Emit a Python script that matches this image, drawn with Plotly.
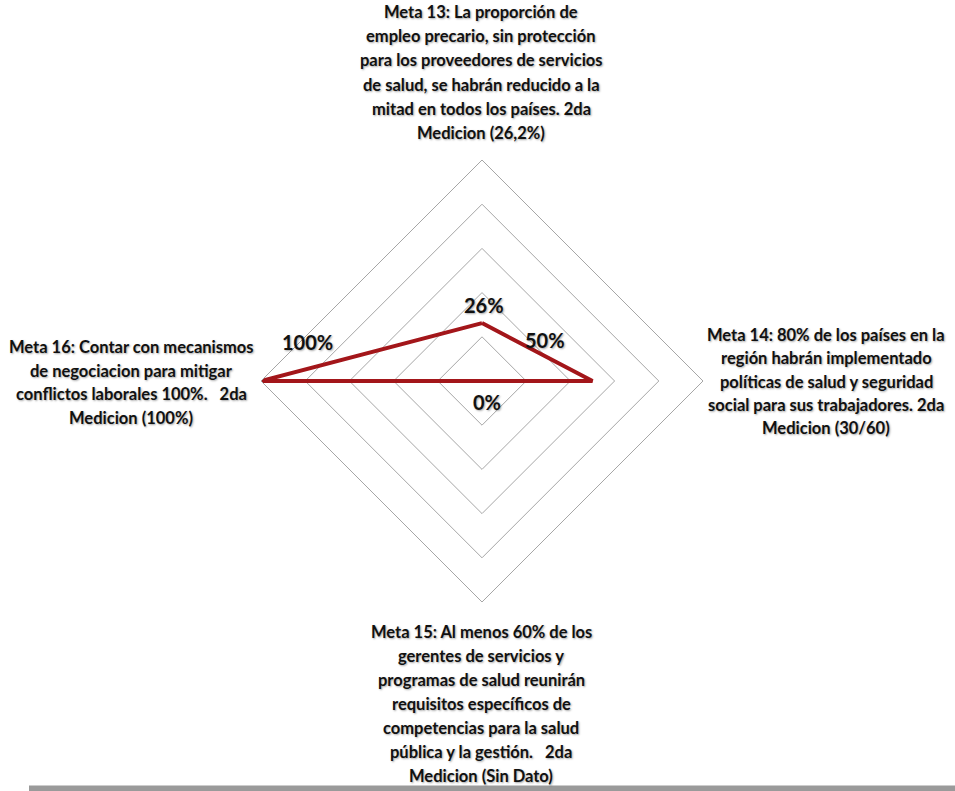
import plotly.graph_objects as go

# ---- data ----
categories = [
    "Meta 13: La proporción de<br>empleo precario, sin protección<br>para los proveedores de servicios<br>de salud, se habrán reducido a la<br>mitad en todos los países. 2da<br>Medicion (26,2%)",
    "Meta 14: 80% de los países en la<br>región habrán implementado<br>políticas de salud y seguridad<br>social para sus trabajadores. 2da<br>Medicion (30/60)",
    "Meta 15: Al menos 60% de los<br>gerentes de servicios y<br>programas de salud reunirán<br>requisitos específicos de<br>competencias para la salud<br>pública y la gestión.   2da<br>Medicion (Sin Dato)",
    "Meta 16: Contar con mecanismos<br>de negociacion para mitigar<br>conflictos laborales 100%.   2da<br>Medicion (100%)",
]
values = [26.2, 50, 0, 100]
value_labels = ["26%", "50%", "0%", "100%"]
ring_ticks = [20, 40, 60, 80, 100]

# ---- layout constants ----
W, H = 955, 791
cx, cy, R = 482, 381, 221
FONT = "Lato, Open Sans, sans-serif"
shadow = "1px 1px 2px rgba(0,0,0,0.35)"

fig = go.Figure()
fig.add_trace(go.Scatterpolar(
    r=values + values[:1],
    theta=categories + categories[:1],
    mode="lines",
    line=dict(color="#A3161A", width=4),
    showlegend=False,
    hoverinfo="skip",
))

fig.update_layout(
    width=W, height=H,
    margin=dict(l=0, r=0, t=0, b=0),
    paper_bgcolor="white",
    plot_bgcolor="white",
    showlegend=False,
    polar=dict(
        domain=dict(x=[(cx - R) / W, (cx + R) / W],
                    y=[(H - cy - R) / H, (H - cy + R) / H]),
        gridshape="linear",
        bgcolor="white",
        radialaxis=dict(range=[0, 100], tickvals=ring_ticks, showticklabels=False,
                        ticks="", showline=False, gridcolor="#A6A6A6", gridwidth=1),
        angularaxis=dict(rotation=90, direction="clockwise", showticklabels=False,
                         ticks="", showgrid=False, showline=True,
                         linecolor="#A6A6A6", linewidth=1),
    ),
)

# category labels (text), one annotation per line for Office-like line spacing
label_pos = [(481, 12, 24.2), (826, 335, 23.3), (481, 632, 24.0), (131, 347, 23.7)]
for text, (px, py0, dy) in zip(categories, label_pos):
    for i, line in enumerate(text.split("<br>")):
        fig.add_annotation(
            x=px / W, y=1 - (py0 + i * dy) / H, xref="paper", yref="paper",
            text=line, showarrow=False, align="center",
            xanchor="center", yanchor="middle",
            font=dict(family=FONT, size=16.5, color="#111111", weight="bold", shadow=shadow),
        )

# value labels
value_pos = [(484, 305), (545, 340), (487, 402), (307, 342)]
for text, (px, py) in zip(value_labels, value_pos):
    fig.add_annotation(
        x=px / W, y=1 - py / H, xref="paper", yref="paper",
        text=text, showarrow=False, xanchor="center", yanchor="middle",
        font=dict(family=FONT, size=20, color="#111111", weight="bold", shadow=shadow),
    )

# bottom gray border bar
fig.add_shape(type="rect", xref="paper", yref="paper",
              x0=29 / W, x1=1, y0=0, y1=5.5 / H,
              line=dict(width=0), fillcolor="#9A9A9A", layer="above")

fig.write_html("out.html",
               config={"displayModeBar": False},
               post_script="document.body.style.margin='0';document.body.style.overflow='hidden';")
